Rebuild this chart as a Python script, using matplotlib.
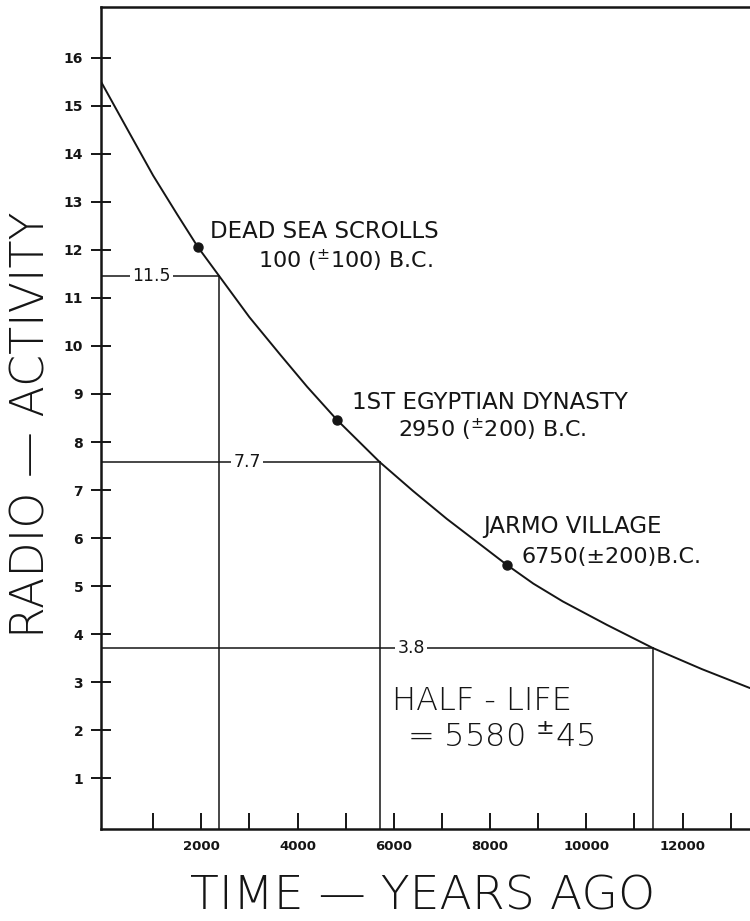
import matplotlib
matplotlib.use("Agg")
import matplotlib.pyplot as plt

# ---- data ----
curve_years = [-80, 500, 1000, 1500, 1930, 2370, 3000, 3640, 4200, 4820, 5710, 6400, 7100,
               7700, 8350, 8900, 9510, 10430, 11380, 12400, 13400]
curve_activity = [15.5, 14.45, 13.55, 12.74, 12.06, 11.46, 10.6, 9.82, 9.15, 8.46, 7.58, 6.98, 6.40,
                  5.94, 5.44, 5.05, 4.68, 4.19, 3.71, 3.27, 2.875]

sample_names = ["DEAD SEA SCROLLS", "1ST EGYPTIAN DYNASTY", "JARMO VILLAGE"]
sample_dates = ["100 ($^{\\pm}$100) B.C.", "2950 ($^{\\pm}$200) B.C.", "6750(±200)B.C."]
sample_years = [1930, 4820, 8350]
sample_activity = [12.06, 8.46, 5.44]

level_values = [11.46, 7.58, 3.71]
level_labels = ["11.5", "7.7", "3.8"]
level_years = [2370, 5710, 11380]
level_label_years = [966, 2950, 6360]

x_ticks = list(range(1000, 14000, 1000))
x_ticklabels = [str(v) if v % 2000 == 0 and v <= 12000 else "" for v in x_ticks]
y_ticks = list(range(1, 17))
y_ticklabels = [str(v) for v in y_ticks]

INK = "#151515"
W, H = 750, 921

plt.rcParams["mathtext.fontset"] = "dejavusans"

fig = plt.figure(figsize=(7.5, 9.21), dpi=100)
fig.patch.set_facecolor("white")
ax = fig.add_axes([101 / W, 1 - 829 / H, (W - 101) / W, (829 - 7) / H])
ax.set_xlim(-83, 13400)
ax.set_ylim(-0.06, 17.06)

for side in ["left", "bottom", "top"]:
    ax.spines[side].set_linewidth(1.8)
    ax.spines[side].set_color(INK)
ax.spines["right"].set_visible(False)

# curve
ax.plot(curve_years, curve_activity, color=INK, lw=1.4, solid_joinstyle="round",
        solid_capstyle="round", zorder=3)
ax.plot(sample_years, sample_activity, "o", color=INK, ms=6.5, zorder=4)

# half-life construction lines
x0 = ax.get_xlim()[0]
y0 = ax.get_ylim()[0]
for lv, yr, lab, lx in zip(level_values, level_years, level_labels, level_label_years):
    ax.plot([x0, yr], [lv, lv], color=INK, lw=1.1, zorder=2)
    ax.plot([yr, yr], [y0, lv], color=INK, lw=1.1, zorder=2)
    ax.text(lx, lv, lab, ha="center", va="center", fontsize=12.5, color=INK,
            family="DejaVu Sans", zorder=3,
            bbox=dict(boxstyle="square,pad=0.15", fc="white", ec="none"))

# ticks
ax.set_xticks(x_ticks)
ax.set_xticklabels(x_ticklabels, fontsize=9.5, fontweight="bold", color=INK)
ax.set_yticks(y_ticks)
ax.set_yticklabels(y_ticklabels, fontsize=10, fontweight="bold", color=INK)
ax.tick_params(axis="x", direction="in", length=11.5, width=1.4, pad=8, color=INK)
ax.tick_params(axis="y", direction="inout", length=13.7, width=1.4, pad=6, color=INK)

# annotations (position: left / baseline in data units)
name_pos = [(2181, 12.25), (5131, 8.69), (7852, 6.10)]
date_pos = [(3178, 11.625), (6086, 8.10), (8662, 5.48)]
for name, (nx, ny) in zip(sample_names, name_pos):
    ax.text(nx, ny, name, ha="left", va="baseline", fontsize=16.5, color=INK, family="DejaVu Sans")
for d, (dx, dy) in zip(sample_dates, date_pos):
    ax.text(dx, dy, d, ha="left", va="baseline", fontsize=16, color=INK, family="DejaVu Sans")

thin = dict(family="DejaVu Sans", fontweight=200, color=INK)
ax.text(5962, 2.42, "HALF - LIFE", ha="left", va="baseline", fontsize=23, **thin)
ax.text(6273, 1.65, "= 5580 $^{\\pm}$45", ha="left", va="baseline", fontsize=23, **thin)

# axis titles
fig.text(423 / W, 1 - 909 / H, "TIME — YEARS AGO", ha="center", va="baseline",
         fontsize=34, **thin)
fig.text(45 / W, 1 - 425 / H, "RADIO — ACTIVITY", ha="center", va="baseline",
         rotation=90, rotation_mode="anchor", fontsize=33, **thin)

fig.savefig("out.png", dpi=100, facecolor="white")
